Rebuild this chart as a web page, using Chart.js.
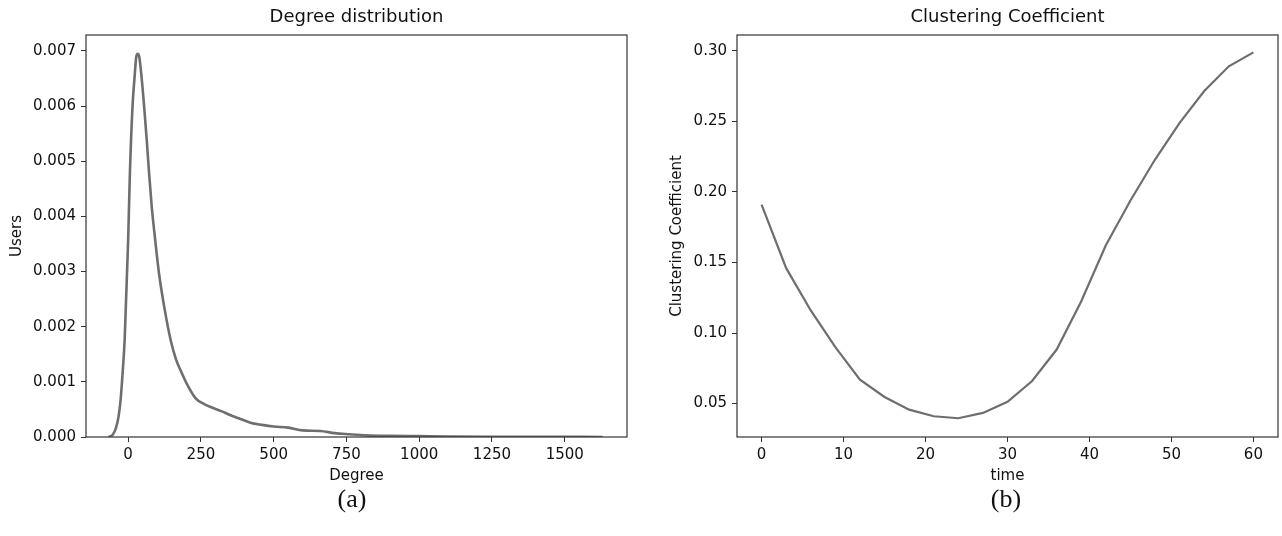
<!DOCTYPE html>
<html>
<head>
<meta charset="utf-8">
<script src="https://cdn.jsdelivr.net/npm/chart.js@4.4.1/dist/chart.umd.min.js"></script>
<style>
  body { margin: 0; background: #fff; width: 1282px; height: 536px; position: relative; overflow: hidden; }
  canvas { position: absolute; top: 0; }
  #left { left: 0; }
  #right { left: 641px; }
  .fig { position: absolute; top: 484px; font-family: "Liberation Serif", serif; font-size: 26px; color: #111; transform: translateX(-50%); }
</style>
</head>
<body>
<canvas id="left" width="641" height="485"></canvas>
<canvas id="right" width="641" height="485"></canvas>
<div class="fig" style="left:352px">(a)</div>
<div class="fig" style="left:1006px">(b)</div>
<script>
// Degree distribution (density curve)
const degreeX = [-67, -53, -42, -33, -26, -19, -12, -8, 0, 6, 15, 23, 28, 33, 38, 45, 55, 64, 72, 81,
  93, 106, 124, 146, 165, 181, 204, 232, 260, 290, 320, 350, 380, 420, 460, 500, 550, 600, 660,
  710, 760, 820, 900, 1000, 1100, 1250, 1400, 1630];
const degreeY = [0, 0.00004, 0.00016, 0.00037, 0.00067, 0.00116, 0.00176, 0.00236, 0.00357, 0.00478,
  0.00599, 0.00659, 0.0069, 0.00695, 0.0069, 0.00659, 0.00599, 0.00538, 0.00478, 0.00418,
  0.00357, 0.00297, 0.00236, 0.00176, 0.0014, 0.0012, 0.00094, 0.0007, 0.0006, 0.00053,
  0.00047, 0.0004, 0.00034, 0.00026, 0.00022, 0.00019, 0.00017, 0.00012, 0.00011,
  0.00007, 0.00005, 0.00003, 0.00002, 0.000015, 0.00001, 0.000005, 0.000003, 0.000001];
const degreeXTicks = [0, 250, 500, 750, 1000, 1250, 1500];
const degreeYTicks = [0, 0.001, 0.002, 0.003, 0.004, 0.005, 0.006, 0.007];

// Clustering coefficient over time
const timeX = [0, 3, 6, 9, 12, 15, 18, 21, 24, 27, 30, 33, 36, 39, 42, 45, 48, 51, 54, 57, 60];
const clusterY = [0.191, 0.146, 0.116, 0.090, 0.067, 0.0547, 0.0457, 0.041, 0.0396, 0.0434,
  0.0512, 0.066, 0.0883, 0.1225, 0.1622, 0.194, 0.223, 0.249, 0.2716, 0.2891, 0.299];
const timeXTicks = [0, 10, 20, 30, 40, 50, 60];
const clusterYTicks = [0.05, 0.10, 0.15, 0.20, 0.25, 0.30];

const FONT = "'DejaVu Sans', sans-serif";
const LINE = '#6e6e6e';
const AXIS = '#333';

// draws the full box around the plot area
const frame = {
  id: 'frame',
  afterDatasetsDraw(chart) {
    const { ctx, chartArea: a } = chart;
    ctx.save();
    ctx.strokeStyle = AXIS;
    ctx.lineWidth = 1.2;
    ctx.strokeRect(a.left, a.top, a.right - a.left, a.bottom - a.top);
    ctx.restore();
  }
};

function axis(opts) {
  return {
    type: 'linear',
    min: opts.min,
    max: opts.max,
    afterBuildTicks: s => { s.ticks = opts.ticks.map(v => ({ value: v })); },
    afterFit: opts.fit,
    border: { display: false },
    grid: { drawOnChartArea: false, drawTicks: true, tickLength: 5, color: AXIS, lineWidth: 1 },
    ticks: {
      color: '#111', padding: opts.pad, font: { family: FONT, size: 15 },
      callback: opts.fmt
    },
    title: {
      display: true, text: opts.title, color: '#111',
      font: { family: FONT, size: 15 }, padding: opts.titlePad
    }
  };
}

function makeChart(id, xs, ys, cfg) {
  return new Chart(document.getElementById(id), {
    type: 'line',
    data: {
      datasets: [{
        data: xs.map((x, i) => ({ x: x, y: ys[i] })),
        borderColor: LINE,
        borderWidth: cfg.lw,
        pointRadius: 0,
        fill: false,
        cubicInterpolationMode: cfg.smooth ? 'monotone' : 'default',
        tension: 0
      }]
    },
    options: {
      responsive: false,
      animation: false,
      layout: { padding: { left: 0, right: cfg.padRight, top: 0, bottom: 0 } },
      plugins: {
        legend: { display: false },
        tooltip: { enabled: false },
        title: {
          display: true, text: cfg.title, fullSize: false, color: '#111',
          font: { family: FONT, size: 18, weight: 'normal' },
          padding: { top: 7, bottom: 6.4 }
        }
      },
      scales: {
        x: axis({
          min: cfg.xMin, max: cfg.xMax, ticks: cfg.xTicks, pad: 4,
          fit: s => { s.height = 48; },
          fmt: v => String(v), title: cfg.xTitle, titlePad: { top: 0, bottom: 0 }
        }),
        y: axis({
          min: cfg.yMin, max: cfg.yMax, ticks: cfg.yTicks, pad: 5,
          fit: s => { s.width = cfg.yWidth; },
          fmt: v => v.toFixed(cfg.yDec), title: cfg.yTitle, titlePad: { top: cfg.yTitlePad, bottom: 0 }
        })
      }
    },
    plugins: [frame]
  });
}

makeChart('left', degreeX, degreeY, {
  title: 'Degree distribution', xTitle: 'Degree', yTitle: 'Users',
  xMin: -144.8, xMax: 1714, yMin: 0, yMax: 0.00729,
  xTicks: degreeXTicks, yTicks: degreeYTicks, yDec: 3,
  yWidth: 86, yTitlePad: 8, padRight: 14, lw: 2.6, smooth: true
});

makeChart('right', timeX, clusterY, {
  title: 'Clustering Coefficient', xTitle: 'time', yTitle: 'Clustering Coefficient',
  xMin: -3, xMax: 63, yMin: 0.0263, yMax: 0.3113,
  xTicks: timeXTicks, yTicks: clusterYTicks, yDec: 2,
  yWidth: 96, yTitlePad: 27, padRight: 4, lw: 2.2, smooth: false
});
</script>
</body>
</html>
